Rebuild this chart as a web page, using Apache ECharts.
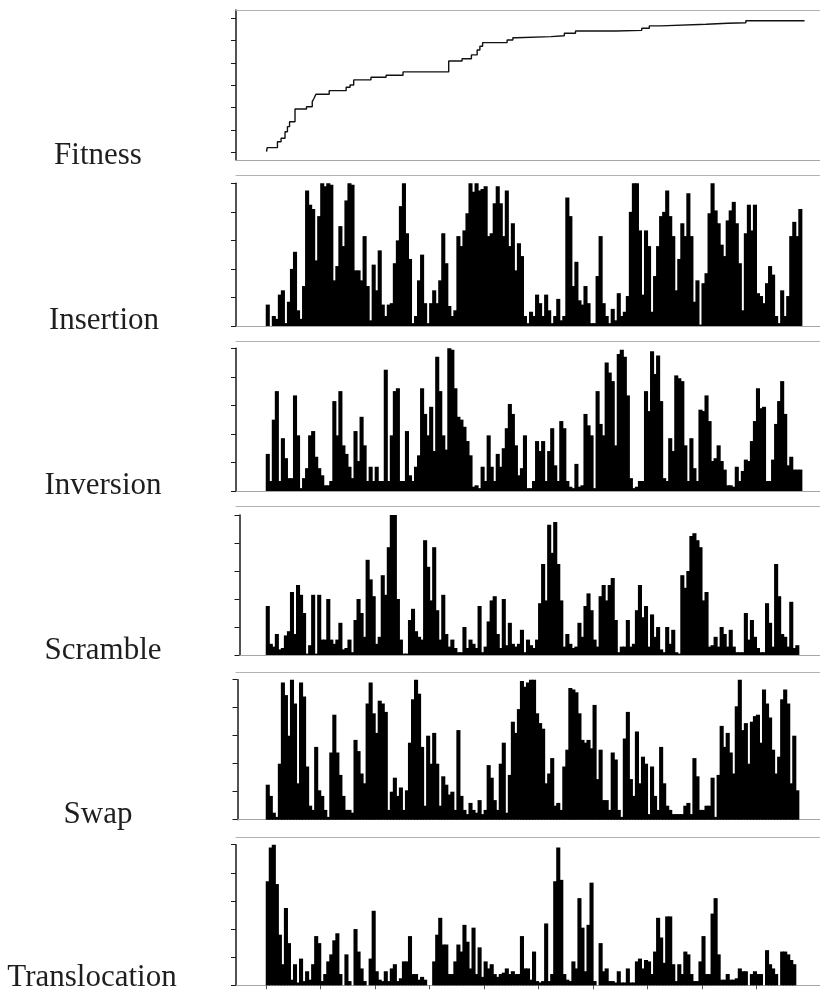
<!DOCTYPE html>
<html>
<head>
<meta charset="utf-8">
<script src="https://cdn.jsdelivr.net/npm/echarts@6/dist/echarts.min.js"></script>
<style>html,body{margin:0;padding:0;background:#fff}#c{width:820px;height:996px}</style>
</head>
<body>
<div id="c"></div>
<script>
// ---------------- data ----------------
const panelNames = ['Fitness', 'Insertion', 'Inversion', 'Scramble', 'Swap', 'Translocation'];

// fitness: step points (generation bin, fitness level)
const fitnessGen = [-0.4, -0.2, 3.2, 4.4, 5.7, 6.5, 7.2, 9.0, 12.8, 14.7, 15.3, 15.9, 20.3, 25.9, 27.2, 28.4, 34.1, 39.1, 44.7, 59.8, 64.2, 67.3, 69.2, 70.1, 71.0, 79.1, 81.0, 82.2, 93.6, 98.0, 101.7, 115, 123.6, 126.1, 129.9, 144.9, 152, 158.0, 177.4];
const fitnessVal = [0.03, 0.21, 0.47, 0.63, 0.92, 1.15, 1.37, 1.94, 2.04, 2.27, 2.42, 2.60, 2.76, 2.91, 3.01, 3.24, 3.36, 3.45, 3.60, 4.09, 4.19, 4.36, 4.58, 4.75, 4.91, 5.03, 5.13, 5.18, 5.22, 5.33, 5.43, 5.46, 5.55, 5.66, 5.73, 5.78, 5.80, 5.89, 5.89];
const fitnessTicks = [0, 1, 2, 3, 4, 5, 6];

const insertion = [15,0,7,5,22,25,2,17,40,52, 11,5,28,95,85,82,46,77,100,98, 100,99,32,42,70,56,88,100,99,39, 39,32,63,28,4,43,25,53,15,7, 15,16,44,60,84,100,65,47,2,7, 32,50,16,2,16,25,16,32,65,44, 14,7,11,63,56,67,79,100,94,100, 95,96,98,63,65,86,98,86,63,95, 56,72,39,58,49,7,2,10,7,22, 16,7,22,11,2,7,19,4,7,90, 77,28,45,18,15,28,16,2,2,35, 63,16,7,2,12,4,23,7,10,21, 80,100,100,67,22,67,56,10,35,56, 77,80,95,77,63,25,47,72,63,93, 63,17,32,1,30,37,79,100,81,72, 57,49,74,81,87,72,44,11,65,85, 67,85,23,21,16,30,42,36,7,2, 25,7,21,63,73,63,82];

const inversion = [26,7,50,70,7,37,23,9,9,67, 39,2,9,16,39,42,24,16,11,4, 4,7,63,39,70,32,26,17,9,42, 21,52,32,7,17,7,17,7,7,85, 7,39,70,72,7,7,42,11,7,17, 25,72,54,39,59,28,94,70,39,29, 100,99,72,52,50,45,35,25,3,4, 2,17,7,39,17,7,26,17,30,44, 61,54,32,11,16,39,2,2,7,35, 28,35,7,28,44,18,7,49,44,7, 3,2,19,3,4,54,46,39,2,70, 47,39,90,83,77,32,96,99,94,67, 9,2,3,7,7,70,56,98,82,95, 63,9,7,37,28,81,79,77,32,7, 37,16,7,57,56,67,49,21,23,32, 21,15,4,4,3,17,7,14,22,21, 35,49,72,58,59,7,7,22,47,63, 77,54,18,24,15,15,15];

const scramble = [35,8,6,15,4,5,14,17,45,15, 50,43,30,1,7,43,1,43,11,11, 40,11,8,11,23,4,5,11,2,25, 40,30,13,68,54,42,8,13,57,43, 77,100,100,40,11,1,1,25,33,17, 13,11,82,63,39,77,32,11,43,15, 6,11,5,2,2,20,5,11,8,5, 35,2,6,24,39,42,15,5,40,7, 23,8,6,8,18,2,11,7,5,11, 37,65,39,93,73,95,65,39,6,15, 8,5,6,23,13,35,44,32,11,6, 42,50,39,50,55,25,2,6,6,25, 6,8,32,50,27,35,6,29,13,20, 4,2,20,8,18,2,1,57,48,60, 85,87,82,77,39,45,6,7,13,6, 20,15,6,18,6,2,2,2,30,11, 25,13,5,2,2,37,23,6,65,42, 15,13,6,38,5,7,0];

const swap = [25,17,5,2,40,98,89,60,100,83, 26,98,88,38,10,7,52,21,17,7, 2,48,75,48,32,17,7,7,5,57, 49,33,26,83,98,76,62,85,83,77, 7,20,30,17,23,7,21,55,86,100, 90,52,10,60,40,62,40,10,31,25, 18,20,7,64,17,7,4,12,7,5, 14,4,7,39,30,14,7,40,55,5, 32,70,62,79,99,95,98,100,100,76, 69,65,26,33,44,10,12,7,38,50, 94,93,91,76,57,55,57,51,82,29, 50,14,14,7,48,43,7,2,58,77, 29,17,63,26,45,40,4,38,17,7, 52,26,10,7,4,4,4,4,10,12, 4,44,31,7,7,10,10,30,2,32, 67,52,62,48,33,81,100,64,69,40, 70,74,75,55,93,83,73,50,33,45, 86,93,83,26,60,21,0];

const translocation = [74,98,100,72,36,15,55,30,4,15, 2,19,3,10,4,15,35,30,3,8, 17,22,32,37,8,0,22,3,0,40, 24,12,3,0,19,53,10,4,3,10, 3,12,15,3,5,17,17,35,8,8, 4,6,4,0,0,17,36,48,29,29, 8,8,17,29,24,43,31,12,41,8, 27,6,17,12,15,8,6,8,9,12, 8,10,8,8,35,12,12,4,24,3, 2,3,44,3,8,74,98,75,8,4, 3,17,12,62,41,10,43,73,3,0, 30,10,12,3,3,2,10,2,2,12, 2,2,17,19,12,18,17,8,24,48, 34,16,49,49,15,3,15,8,24,22, 8,3,3,17,35,8,8,51,62,22, 4,4,8,4,4,5,12,10,10,0, 8,10,8,8,0,25,15,12,8,0, 24,24,22,18,15,0,0];

const barSeries = [insertion, inversion, scramble, swap, translocation];
const barTicks = [0, 20, 40, 60, 80, 100];
const xTickEvery = 18;

// ---------------- layout ----------------
const PAD_LEFT = 10, N_CAT = 193;
const GRID_LEFT = 236, GRID_WIDTH = 585;
const layout = [
  {top: 10,    height: 150,   border: 0,   yOff: 0,    lx: 98,  ly: 156},
  {top: 183.3, height: 142.7, border: 8.3, yOff: 0,    lx: 104, ly: 321},
  {top: 348.3, height: 142.7, border: 7.3, yOff: 0,    lx: 103, ly: 486},
  {top: 515,   height: 140,   border: 8.3, yOff: -3.5, lx: 103, ly: 651},
  {top: 679.7, height: 140,   border: 7.4, yOff: -1.5, lx: 98,  ly: 815},
  {top: 844.7, height: 140.6, border: 7.4, yOff: 0,    lx: 92,  ly: 978}
];

const categories = Array.from({length: N_CAT}, (_, i) => String(i - PAD_LEFT));
function padded(arr) {
  const out = new Array(N_CAT).fill(null);
  arr.forEach((v, i) => { out[i + PAD_LEFT] = v; });
  return out;
}

const AXIS_DARK = '#1a1a1a', BORDER_GRAY = '#b3b3b3', BOTTOM_GRAY = '#a6a6a6';

const grid = [], xAxis = [], yAxis = [], series = [], graphic = [];

layout.forEach((p, i) => {
  grid.push({left: GRID_LEFT, width: GRID_WIDTH, top: p.top, height: p.height});
  if (i === 0) {
    xAxis.push({gridIndex: 0, type: 'value', min: -PAD_LEFT - 0.5, max: N_CAT - PAD_LEFT - 0.5,
      axisLine: {show: true, onZero: false, lineStyle: {color: BOTTOM_GRAY, width: 1}},
      axisTick: {show: false}, axisLabel: {show: false}, splitLine: {show: false}});
    xAxis.push({gridIndex: 0, type: 'value', position: 'top', min: 0, max: 1,
      axisLine: {show: true, onZero: false, lineStyle: {color: BORDER_GRAY, width: 1}},
      axisTick: {show: false}, axisLabel: {show: false}, splitLine: {show: false}});
    yAxis.push({gridIndex: 0, type: 'value', min: -0.345, max: 6.37,
      axisLine: {show: true, onZero: false, lineStyle: {color: AXIS_DARK, width: 1.5}},
      axisTick: {show: true, length: 5, customValues: fitnessTicks, lineStyle: {color: AXIS_DARK, width: 1}},
      axisLabel: {show: false, customValues: fitnessTicks}, splitLine: {show: false}});
    series.push({type: 'line', xAxisIndex: 0, yAxisIndex: 0, step: 'end', showSymbol: false, symbol: 'none',
      silent: true, lineStyle: {color: '#111', width: 1.4},
      data: fitnessGen.map((g, k) => [g, fitnessVal[k]])});
  } else {
    const isLast = i === layout.length - 1;
    xAxis.push({gridIndex: i, type: 'category', data: categories, boundaryGap: true,
      axisLine: {show: true, onZero: false, lineStyle: {color: BOTTOM_GRAY, width: 1}},
      axisTick: {show: isLast, length: 4, lineStyle: {color: '#555', width: 1},
        interval: (idx) => idx >= PAD_LEFT && (idx - PAD_LEFT) % xTickEvery === 0 && idx <= PAD_LEFT + xTickEvery * 9},
      axisLabel: {show: false}, splitLine: {show: false}});
    xAxis.push({gridIndex: i, type: 'value', position: 'top', offset: p.border, min: 0, max: 1,
      axisLine: {show: true, onZero: false, lineStyle: {color: BORDER_GRAY, width: 1}},
      axisTick: {show: false}, axisLabel: {show: false}, splitLine: {show: false}});
    yAxis.push({gridIndex: i, type: 'value', min: 0, max: 100, interval: 20, offset: p.yOff,
      axisLine: {show: true, onZero: false, lineStyle: {color: AXIS_DARK, width: 1.5}},
      axisTick: {show: true, length: 5, lineStyle: {color: AXIS_DARK, width: 1}},
      axisLabel: {show: false}, splitLine: {show: false}});
    series.push({type: 'bar', xAxisIndex: 2 * i, yAxisIndex: i, silent: true,
      barWidth: '135%', itemStyle: {color: '#000'},
      data: padded(barSeries[i - 1])});
  }
  graphic.push({type: 'text', x: p.lx, y: p.ly, silent: true,
    style: {text: panelNames[i], fill: '#1e1e1e', font: '31px "Liberation Serif", serif',
      textAlign: 'center', textVerticalAlign: 'middle'}});
});

const chart = echarts.init(document.getElementById('c'), null, {renderer: 'canvas'});
chart.setOption({
  animation: false,
  backgroundColor: '#fff',
  grid, xAxis, yAxis, series, graphic
});
</script>
</body>
</html>
